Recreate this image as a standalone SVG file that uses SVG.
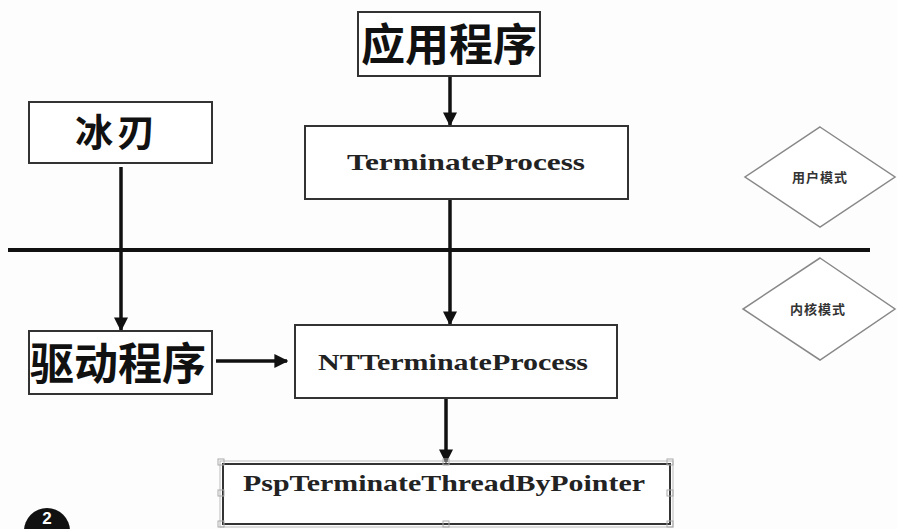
<svg xmlns="http://www.w3.org/2000/svg" width="897" height="529" viewBox="0 0 897 529">
<style>
.box{fill:#fff;stroke:#333;stroke-width:2}
.cn{font-family:"Noto Sans CJK SC","Noto Sans CJK TC",sans-serif;font-weight:bold;fill:#111}
.en{font-family:"Liberation Serif","DejaVu Serif",serif;font-weight:bold;fill:#222;font-size:23px}
.dia{fill:#fff;stroke:#888;stroke-width:1.5}
.lab{font-family:"Noto Sans CJK SC",sans-serif;font-size:13px;fill:#333;font-weight:bold;letter-spacing:1px}
.con{stroke:#111;stroke-width:3.5;fill:none}
.hd{fill:none;stroke:#aaa;stroke-width:1}
</style>
<defs>
<marker id="ah" viewBox="0 0 10 10" refX="9" refY="5" markerWidth="4" markerHeight="4" orient="auto" markerUnits="strokeWidth">
<path d="M0,0 L10,5 L0,10 z" fill="#111"/>
</marker>
</defs>
<rect width="897" height="529" fill="#fdfdfd"/>
<g id="divider"><line x1="8" y1="250" x2="870" y2="250" stroke="#111" stroke-width="4"/></g>
<g id="connectors">
<line class="con" x1="450" y1="76" x2="450" y2="125" marker-end="url(#ah)"/>
<line class="con" x1="121" y1="167" x2="121" y2="330" marker-end="url(#ah)"/>
<line class="con" x1="450" y1="199" x2="450" y2="324" marker-end="url(#ah)"/>
<line class="con" x1="216" y1="361" x2="287" y2="361" marker-end="url(#ah)"/>
<line class="con" x1="446" y1="398" x2="446" y2="462" marker-end="url(#ah)"/>
</g>
<g id="app">
<rect class="box" x="358" y="12" width="182" height="64"/>
<text class="cn" x="449" y="61" font-size="44" text-anchor="middle" textLength="176">应用程序</text>
</g>
<g id="terminateprocess">
<rect class="box" x="305" y="126" width="323" height="73"/>
<text class="en" x="347" y="170" textLength="238" lengthAdjust="spacingAndGlyphs">TerminateProcess</text>
</g>
<g id="bingren">
<rect class="box" x="29" y="102" width="183" height="61"/>
<text class="cn" x="117" y="146" font-size="38" text-anchor="middle" letter-spacing="4">冰刃</text>
</g>
<g id="driver">
<rect class="box" x="29" y="331" width="183" height="63"/>
<text class="cn" x="118" y="380" font-size="44" text-anchor="middle" textLength="176">驱动程序</text>
</g>
<g id="ntterminateprocess">
<rect class="box" x="295" y="325" width="322" height="73"/>
<text class="en" x="318" y="370" textLength="270" lengthAdjust="spacingAndGlyphs">NTTerminateProcess</text>
</g>
<g id="psp">
<rect class="box" x="223" y="464" width="447" height="60" stroke="#555"/>
<rect x="220" y="461" width="453" height="66" fill="none" stroke="#bbb" stroke-width="1"/>
<rect class="hd" x="218" y="459" width="6" height="6"/>
<rect class="hd" x="443" y="459" width="6" height="6"/>
<rect class="hd" x="667" y="459" width="6" height="6"/>
<rect class="hd" x="218" y="490" width="6" height="6"/>
<rect class="hd" x="667" y="490" width="6" height="6"/>
<rect class="hd" x="218" y="521" width="6" height="6"/>
<rect class="hd" x="443" y="521" width="6" height="6"/>
<rect class="hd" x="667" y="521" width="6" height="6"/>
<text class="en" x="243" y="491" textLength="402" lengthAdjust="spacingAndGlyphs">PspTerminateThreadByPointer</text>
</g>
<g id="usermode">
<polygon class="dia" points="820,127 895,177 820,227 745,177"/>
<text class="lab" x="820" y="182" text-anchor="middle">用户模式</text>
</g>
<g id="kernelmode">
<polygon class="dia" points="820,258 895,309 820,360 743,309"/>
<text class="lab" x="818" y="314" text-anchor="middle">内核模式</text>
</g>
<g id="badge">
<circle cx="47" cy="531" r="23" fill="#111"/>
<text x="47" y="524" font-family="Liberation Sans,sans-serif" font-weight="bold" font-size="17" fill="#fff" text-anchor="middle">2</text>
</g>
</svg>
